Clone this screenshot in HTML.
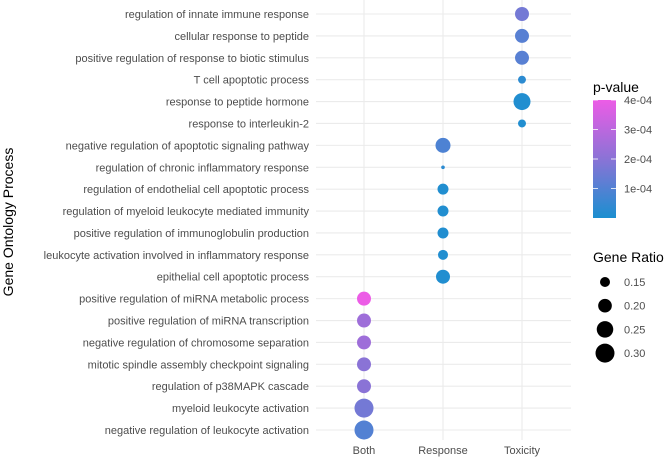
<!DOCTYPE html>
<html><head><meta charset="utf-8"><style>
body{margin:0;background:#fff}
svg{display:block;font-family:"Liberation Sans",Arial,sans-serif}
</style></head><body>
<svg id="chart" width="669" height="462" viewBox="0 0 669 462">
<g id="grid"></g>
<g id="ylabels"></g>
<g id="xlabels"></g>
<g id="points"></g>
<text x="13" y="222" transform="rotate(-90 13 222)" text-anchor="middle" font-size="14" fill="#000">Gene Ontology Process</text>
<g>
<defs><linearGradient id="cg" x1="0" y1="1" x2="0" y2="0">
<stop offset="0" stop-color="#1b8fd0"/><stop offset="0.5" stop-color="#8a73d6"/><stop offset="1" stop-color="#ec5ce6"/></linearGradient></defs>
<text x="593" y="92" font-size="14" fill="#000">p-value</text>
<rect x="593" y="100" width="23" height="118" fill="url(#cg)"/>
<g id="cticks"></g>
</g>
<g id="sizeleg">
<text x="593" y="262" font-size="14" fill="#000">Gene Ratio</text>
</g>
</svg>
<script>
const terms=["regulation of innate immune response","cellular response to peptide","positive regulation of response to biotic stimulus","T cell apoptotic process","response to peptide hormone","response to interleukin-2","negative regulation of apoptotic signaling pathway","regulation of chronic inflammatory response","regulation of endothelial cell apoptotic process","regulation of myeloid leukocyte mediated immunity","positive regulation of immunoglobulin production","leukocyte activation involved in inflammatory response","epithelial cell apoptotic process","positive regulation of miRNA metabolic process","positive regulation of miRNA transcription","negative regulation of chromosome separation","mitotic spindle assembly checkpoint signaling","regulation of p38MAPK cascade","myeloid leukocyte activation","negative regulation of leukocyte activation"];
const groups=["Toxicity","Toxicity","Toxicity","Toxicity","Toxicity","Toxicity","Response","Response","Response","Response","Response","Response","Response","Both","Both","Both","Both","Both","Both","Both"];
const geneRatio=[0.205,0.205,0.205,0.129,0.259,0.129,0.222,0.10,0.162,0.162,0.162,0.150,0.205,0.205,0.205,0.205,0.205,0.205,0.301,0.301];
const pValue=[1.6e-4,1.1e-4,1.1e-4,3e-5,1e-5,1e-5,9e-5,3e-5,1e-5,1e-5,1e-5,1e-5,1e-5,4e-4,2.4e-4,2.4e-4,2e-4,2e-4,1.6e-4,1.0e-4];
const categories=["Both","Response","Toxicity"];
const colorTicks=[1e-4,2e-4,3e-4,4e-4];
const colorTickLabels=["1e-04","2e-04","3e-04","4e-04"];
const sizeBreaks=[0.15,0.20,0.25,0.30];
const sizeLabels=["0.15","0.20","0.25","0.30"];

const NS="http://www.w3.org/2000/svg";
function mk(tag,attrs,parent,text){const e=document.createElementNS(NS,tag);for(const k in attrs)e.setAttribute(k,attrs[k]);if(text!=null)e.textContent=text;parent.appendChild(e);return e;}
const X0=316,X1=571,Y0=0,Y1=440;
const xS=c=>364+categories.indexOf(c)*79;
const yS=i=>14+i*(430-14)/(terms.length-1);
const rS=v=>Math.sqrt(Math.max(1,433*v-40));
const pmin=0,pmax=4e-4;
function hex(h){return [1,3,5].map(i=>parseInt(h.substr(i,2),16));}
const stops=[hex("#1b8fd0"),hex("#8a73d6"),hex("#ec5ce6")];
function col(p){let t=(p-pmin)/(pmax-pmin);t=Math.max(0,Math.min(1,t));const s=t*2,i=Math.min(1,Math.floor(s)),f=s-i;const c=stops[i].map((v,k)=>Math.round(v+(stops[i+1][k]-v)*f));return `rgb(${c})`;}
const cbY=p=>218-(p-pmin)/(pmax-pmin)*118;

const grid=document.getElementById('grid'),yl=document.getElementById('ylabels'),xl=document.getElementById('xlabels'),pts=document.getElementById('points');
terms.forEach((t,i)=>{
 const l=mk('line',{x1:X0,x2:X1,y1:yS(i),y2:yS(i),stroke:'#ebebeb','stroke-width':1.1},grid);
 
 
 const tx=mk('text',{x:309,y:yS(i)+4,'text-anchor':'end','font-size':11,fill:'#4d4d4d'},yl,t);
 
 
});
categories.forEach(c=>{
 const l=mk('line',{x1:xS(c),x2:xS(c),y1:Y0,y2:Y1,stroke:'#ebebeb','stroke-width':1.1},grid);
 
 
 const tx=mk('text',{x:xS(c),y:454,'text-anchor':'middle','font-size':11,fill:'#4d4d4d'},xl,c);
 
 
});
terms.forEach((t,i)=>{
 const c=mk('circle',{cx:xS(groups[i]),cy:yS(i),r:rS(geneRatio[i]),fill:col(pValue[i])},pts);
 
 
});
const ct=document.getElementById('cticks');
colorTicks.forEach((v,i)=>{
 const y=cbY(v);
 mk('line',{x1:593,x2:598,y1:y,y2:y,stroke:'#fff','stroke-width':0.8},ct);
 mk('line',{x1:611,x2:616,y1:y,y2:y,stroke:'#fff','stroke-width':0.8},ct);
 const tx=mk('text',{x:624,y:y+4,'font-size':11,fill:'#4d4d4d'},ct,colorTickLabels[i]);
 
 
});
const sl=document.getElementById('sizeleg');
sizeBreaks.forEach((v,i)=>{
 const y=282+i*23.7;
 const c=mk('circle',{cx:605,cy:y,r:rS(v),fill:'#000'},sl);
 
 
 const tx=mk('text',{x:624,y:y+4,'font-size':11,fill:'#4d4d4d'},sl,sizeLabels[i]);
 
 
});
</script>
</body></html>
